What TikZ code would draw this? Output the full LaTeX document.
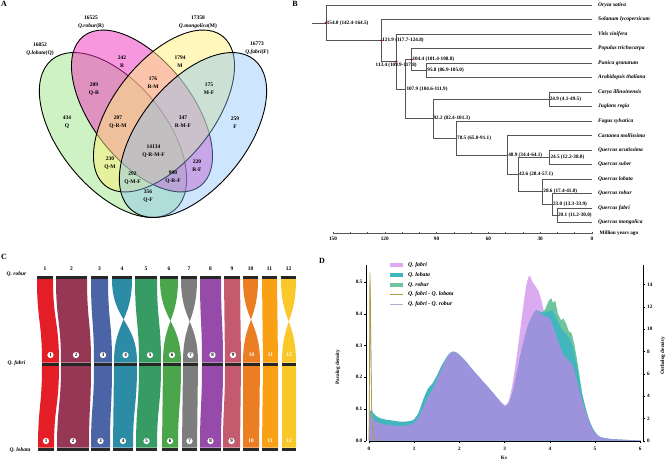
\documentclass[tikz,border=0pt]{standalone}
\usepackage{fontspec}
\setmainfont{Liberation Serif}
\usetikzlibrary{positioning}
% colours
\definecolor{vennQ}{RGB}{120,220,90}
\definecolor{vennR}{RGB}{240,50,190}
\definecolor{vennM}{RGB}{255,240,120}
\definecolor{vennF}{RGB}{130,190,250}
\definecolor{treeline}{RGB}{85,85,85}
\definecolor{dotred}{RGB}{150,20,40}
\definecolor{chrA}{RGB}{228,30,38}
\definecolor{chrB}{RGB}{150,55,85}
\definecolor{chrC}{RGB}{75,100,165}
\definecolor{chrD}{RGB}{45,140,165}
\definecolor{chrE}{RGB}{55,155,100}
\definecolor{chrF}{RGB}{75,165,75}
\definecolor{chrG}{RGB}{125,125,125}
\definecolor{chrH}{RGB}{150,75,170}
\definecolor{chrI}{RGB}{195,90,110}
\definecolor{chrJ}{RGB}{235,125,35}
\definecolor{chrK}{RGB}{250,160,20}
\definecolor{chrL}{RGB}{250,200,40}
\definecolor{dfabri}{RGB}{220,170,240}
\definecolor{dlobata}{RGB}{65,182,188}
\definecolor{drobur}{RGB}{110,196,155}
\definecolor{dbase}{RGB}{157,147,221}
\definecolor{dfl}{RGB}{170,155,60}
\definecolor{dfr}{RGB}{185,170,205}
\tikzset{
  panel/.style={font=\bfseries\fontsize{8}{9}\selectfont, inner sep=0pt},
  vlab/.style={font=\bfseries\fontsize{5.5}{7.8}\selectfont, align=center, inner sep=0pt},
  branch/.style={draw=treeline, line width=0.5pt},
  tiplab/.style={font=\bfseries\itshape\fontsize{5.5}{6}\selectfont, inner sep=0pt},
  nodelab/.style={font=\bfseries\fontsize{5.2}{6}\selectfont, inner sep=0.6pt},
  nodedot/.style={circle, fill=dotred, inner sep=0pt, minimum size=2.6pt},
  chrbar/.style={line width=3pt, draw=black!85},
  chrnum/.style={font=\bfseries\fontsize{5.5}{6}\selectfont, inner sep=0pt},
  chrcirc/.style={circle, fill=white, inner sep=0pt, minimum size=6.3pt, font=\bfseries\fontsize{5}{6}\selectfont},
  axlab/.style={font=\bfseries\fontsize{5.2}{6}\selectfont, inner sep=0.5pt},
  leglab/.style={font=\bfseries\itshape\fontsize{5.8}{6}\selectfont, inner sep=0pt, anchor=west},
}
\begin{document}
\begin{tikzpicture}[x=1pt,y=-1pt]
\useasboundingbox (0,0) rectangle (667,464);
%
%% A: Venn diagram
\node[panel] (pA) at (4,4) {A};
\foreach \c/\cx/\cy/\rot/\ra/\rb/\op in {vennQ/113/135/-51/97/53/0.36, vennR/142/111/-52/95/50/0.5,
    vennM/164/111/52/95/50/0.5, vennF/193/135/51/97/53/0.4}
  \filldraw[fill=\c, fill opacity=\op, draw=black, line width=0.9pt, rotate around={\rot:(\cx,\cy)}]
    (\cx,\cy) ellipse [x radius=\ra pt, y radius=\rb pt];
\node[vlab] (setQ) at (40,49.5) {16852\\{\itshape Q.lobata}(Q)};
\node[vlab] (setR) at (91,22.5) {16525\\{\itshape Q.robur}(R)};
\node[vlab] (setM) at (198,22.5) {17358\\{\itshape Q.mongolica}(M)};
\node[vlab] (setF) at (257,48.5) {16773\\{\itshape Q.fabri}(F)};
\foreach \x/\y/\t [count=\i] in {122/62/242\\R, 180/62/1794\\M, 94/89/209\\Q-R, 153/83/176\\R-M,
    209/88.5/175\\M-F, 67/122.5/434\\Q, 118/122/207\\Q-R-M, 183/122/347\\R-M-F, 235/122.5/259\\F,
    153.5/151/14134\\Q-R-M-F, 110/163/230\\Q-M, 197/165.5/220\\R-F, 132.5/178.5/292\\Q-M-F,
    173/177.5/990\\Q-R-F, 148/196.5/356\\Q-F}
  \node[vlab] (v\i) at (\x,\y) {\t};
%
%% B: dated tree
\node[panel] (pB) at (295,4) {B};
\foreach \sp [count=\i from 0] in {Oryza sativa, Solanum lycopersicum, Vitis vinifera, Populus trichocarpa,
    Punica granatum, Arabidopsis thaliana, Carya illinoinensis, Juglans regia, Fagus sylvatica,
    Castanea mollissima, Quercus acutissima, Quercus suber, Quercus lobata, Quercus robur,
    Quercus fabri, Quercus mongolica}{
  \coordinate (e\i) at (592,{5+14.5*\i});
  \node[tiplab, right=6pt] (s\i) at (e\i) {\sp};
}
\coordinate (rs) at (312,22.75);
\coordinate (r0) at (326,22.75);     % 154.0
\coordinate (r1) at (381.5,40.5);    % 121.9
\coordinate (r2) at (396.2,61.5);    % 113.4
\coordinate (r3) at (405.7,89);      % 107.9
\coordinate (r4) at (411.7,59.4);    % 104.4
\coordinate (r5) at (426.6,70.25);   % 95.8
\coordinate (r6) at (432.8,118.6);   % 92.2
\coordinate (r7) at (549.0,99.25);   % 24.9
\coordinate (r8) at (456.4,138);     % 78.5
\coordinate (r9) at (507.5,155);     % 48.9
\coordinate (r10) at (518.4,174.5);  % 42.6
\coordinate (r11) at (549.7,157.25); % 24.5
\coordinate (r12) at (542.6,191.7);  % 28.6
\coordinate (r13) at (552.3,204.4);  % 23.0
\coordinate (r14) at (557.3,215.25); % 20.1
\draw[branch] (rs) -- (r0);
\foreach \p/\c in {r0/e0, r0/r1, r1/e1, r1/r2, r2/e2, r2/r3, r3/r4, r3/r6, r4/e3, r4/r5, r5/e4, r5/e5,
    r6/r7, r6/r8, r7/e6, r7/e7, r8/e8, r8/r9, r9/e9, r9/r10, r10/r11, r10/r12, r11/e10, r11/e11,
    r12/e12, r12/r13, r13/e13, r13/r14, r14/e14, r14/e15}
  \draw[branch] (\p) |- (\c);
\foreach \n/\t in {r0/154.0 (142.4-164.5), r1/121.9 (117.7-124.8), r3/107.9 (104.6-111.9),
    r4/104.4 (101.4-108.8), r5/95.8 (86.9-105.0), r6/92.2 (82.4-101.3), r7/24.9 (4.1-49.5),
    r8/78.5 (65.0-91.1), r9/48.9 (34.4-64.1), r10/42.6 (28.4-57.1), r11/24.5 (12.2-38.0),
    r12/28.6 (17.4-41.0), r13/23.0 (13.3-33.9), r14/20.1 (11.2-30.0)}
  \node[nodelab, anchor=west] (l\n) at (\n) {\t};
\node[nodelab, below=1pt] (lr2) at (r2) {113.4 (109.9-117.8)};
\foreach \n in {r0,r1,r2,r4}
  \node[nodedot] (d\n) at (\n) {};
% time axis
\coordinate (ax0) at (333,233);
\coordinate (ax1) at (592,233);
\draw[branch] (ax0) -- (ax1);
\foreach \t in {0,10,...,150}
  \draw[branch] ({592-1.727*\t},231.8) -- ({592-1.727*\t},234.2);
\foreach \t in {0,30,...,150}
  \node[axlab] (tk\t) at ({592-1.727*\t},239) {\t};
\node[axlab, anchor=west] (myalab) at (599,233) {Million years ago};
%
%% C: synteny
\node[panel] (pC) at (4,257) {C};
\node[tiplab] (rowR) at (16.5,274) {Q. robur};
\node[tiplab] (rowF) at (16.5,363) {Q. fabri};
\node[tiplab] (rowL) at (20,450) {Q. lobata};
\foreach \c/\tl/\tr/\ml/\mr/\bl/\br/\inv [count=\i] in {chrA/37/53/42/59/38/54/0, chrB/56/87/61/91/57/89/0,
    chrC/91/108/94/112/91/110/0, chrD/112/132/114/137/113/133/1, chrE/135/157/139/161/136/157/0,
    chrF/160/178/163/181/162/178/1, chrG/181/197/183/198/182/197/1, chrH/200/221/202/223/200/221/0,
    chrI/224/240/225/241/223/240/0, chrJ/243/258/243/260/243/259/1, chrK/262/277/263/278/262/278/0,
    chrL/281/296/282/296/282/296/1}{
  \ifnum\inv=1
    \fill[\c] (\tl,279) .. controls (\tl,321) and (\mr,321) .. (\mr,362.5) -- (\ml,362.5)
      .. controls (\ml,321) and (\tr,321) .. (\tr,279) -- cycle;
  \else
    \fill[\c] (\tl,279) .. controls (\tl,321) and (\ml,321) .. (\ml,362.5) -- (\mr,362.5)
      .. controls (\mr,321) and (\tr,321) .. (\tr,279) -- cycle;
  \fi
  \fill[\c] (\ml,365.5) .. controls (\ml,406.5) and (\bl,406.5) .. (\bl,447.5) -- (\br,447.5)
    .. controls (\br,406.5) and (\mr,406.5) .. (\mr,365.5) -- cycle;
  \draw[chrbar] (\tl,277.7) -- (\tr,277.7);
  \draw[chrbar] (\ml,364) -- (\mr,364);
  \draw[chrbar] (\bl,449) -- (\br,449);
  \node[chrnum] (cn\i) at ({(\tl+\tr)/2},269) {\i};
  \ifnum\i<10
    \node[chrcirc] (cm\i) at ({(\ml+\mr)/2},355) {\i};
    \node[chrcirc] (cb\i) at ({(\bl+\br)/2},441) {\i};
  \else
    \node[chrnum, text=white] (cm\i) at ({(\ml+\mr)/2},355) {\i};
    \node[chrnum, text=white] (cb\i) at ({(\bl+\br)/2},441) {\i};
  \fi
}
%
%% D: Ks distribution
\node[panel] (pD) at (322,261) {D};
\begin{scope}[shift={(369,440.7)}, x=45.2pt, y=317pt]
\fill[dfabri] plot[smooth, tension=0.5] coordinates {(0,0) (0.01,0.055) (0.04,0.085) (0.08,0.072) (0.15,0.06)
  (0.3,0.053) (0.5,0.048) (0.7,0.046) (0.9,0.05) (1.0,0.056) (1.1,0.075) (1.2,0.105) (1.3,0.135)
  (1.45,0.175) (1.6,0.225) (1.75,0.268) (1.85,0.28) (1.95,0.276) (2.1,0.256) (2.3,0.222) (2.5,0.19)
  (2.7,0.158) (2.85,0.133) (2.95,0.118) (3.02,0.113) (3.1,0.13) (3.2,0.2) (3.3,0.3) (3.4,0.41)
  (3.48,0.49) (3.55,0.52) (3.62,0.5) (3.68,0.488) (3.75,0.472) (3.8,0.45) (3.88,0.405) (4.0,0.385)
  (4.1,0.35) (4.2,0.305) (4.3,0.272) (4.4,0.255) (4.5,0.24) (4.6,0.19) (4.7,0.135) (4.8,0.09)
  (4.9,0.05) (5.0,0.025) (5.1,0.012) (5.3,0.006) (5.6,0.003) (6,0.001) (6,0)} -- cycle;
\fill[drobur] (3.8,0) -- (3.8,0.4) -- (3.9,0.415) -- (3.97,0.44) -- (4.03,0.45) -- (4.07,0.435)
  -- (4.12,0.442) -- (4.18,0.4) -- (4.25,0.38) -- (4.3,0.385) -- (4.36,0.37) -- (4.42,0.345)
  -- (4.48,0.34) -- (4.55,0.3) -- (4.62,0.24) -- (4.7,0.165) -- (4.7,0) -- cycle;
\fill[dlobata] plot[smooth, tension=0.5] coordinates {(0,0) (0.01,0.08) (0.05,0.098) (0.1,0.086) (0.2,0.074)
  (0.35,0.067) (0.5,0.064) (0.7,0.06) (0.9,0.062) (1.0,0.068) (1.1,0.09) (1.2,0.13) (1.3,0.163)
  (1.4,0.18) (1.5,0.205) (1.6,0.235) (1.75,0.27) (1.85,0.281) (1.95,0.277) (2.1,0.257) (2.3,0.223)
  (2.5,0.19) (2.7,0.158) (2.85,0.132) (2.95,0.115) (3.02,0.108) (3.1,0.12) (3.2,0.165) (3.3,0.235)
  (3.4,0.3) (3.5,0.355) (3.6,0.39) (3.7,0.412) (3.8,0.405) (3.9,0.405) (4.0,0.41) (4.05,0.412)
  (4.1,0.4) (4.2,0.37) (4.3,0.345) (4.4,0.33) (4.5,0.3) (4.6,0.235) (4.7,0.16) (4.8,0.1)
  (4.9,0.055) (5.0,0.028) (5.1,0.013) (5.3,0.006) (5.6,0.003) (6,0.001) (6,0)} -- cycle;
\fill[dbase] plot[smooth, tension=0.5] coordinates {(0,0) (0.01,0.055) (0.04,0.085) (0.08,0.072) (0.15,0.06)
  (0.3,0.053) (0.5,0.048) (0.7,0.046) (0.9,0.05) (1.0,0.056) (1.1,0.075) (1.2,0.105) (1.3,0.135)
  (1.45,0.175) (1.6,0.225) (1.75,0.268) (1.85,0.28) (1.95,0.276) (2.1,0.256) (2.3,0.222) (2.5,0.19)
  (2.7,0.158) (2.85,0.132) (2.95,0.115) (3.02,0.108) (3.1,0.12) (3.2,0.165) (3.3,0.235) (3.4,0.3)
  (3.5,0.355) (3.6,0.39) (3.7,0.41) (3.8,0.4) (3.88,0.395) (4.0,0.385) (4.1,0.35) (4.2,0.305)
  (4.3,0.272) (4.4,0.255) (4.5,0.24) (4.6,0.19) (4.7,0.135) (4.8,0.09) (4.9,0.05) (5.0,0.025)
  (5.1,0.012) (5.3,0.006) (5.6,0.003) (6,0.001) (6,0)} -- cycle;
\end{scope}
\begin{scope}[shift={(369,440.7)}, x=45.2pt, y=11.15pt]
\draw[dfr, line width=0.6pt] plot[smooth, tension=0.4] coordinates {(0,0) (0.012,5) (0.025,13.5) (0.04,9)
  (0.06,2.5) (0.1,0.4) (0.2,0)};
\draw[dfl, line width=0.7pt] plot[smooth, tension=0.4] coordinates {(0,0) (0.01,6) (0.02,14.8) (0.03,13)
  (0.045,7) (0.06,3) (0.08,1) (0.12,0.2) (0.2,0)};
\end{scope}
% axes
\coordinate (yl0) at (366,440.7);
\coordinate (yl1) at (366,265);
\coordinate (yr0) at (643.3,440.7);
\coordinate (yr1) at (643.3,265);
\coordinate (xb0) at (369,440.7);
\coordinate (xb1) at (640.2,440.7);
\draw[line width=0.5pt] (yl0) -- (yl1);
\draw[line width=0.5pt] (yr0) -- (yr1);
\draw[line width=0.4pt] (xb0) -- (xb1);
\foreach \d in {0,...,5}{
  \draw[line width=0.4pt] (366,{440.7-31.7*\d}) -- (364,{440.7-31.7*\d});
  \node[axlab, anchor=east] (yt\d) at (363,{440.7-31.7*\d}) {0.\d};
}
\foreach \o in {0,2,...,14}{
  \draw[line width=0.4pt] (643.3,{440.7-11.15*\o}) -- (645.3,{440.7-11.15*\o});
  \node[axlab, anchor=west] (ot\o) at (646.5,{440.7-11.15*\o}) {\o};
}
\foreach \k in {0,...,6}{
  \draw[line width=0.4pt] ({369+45.2*\k},440.7) -- ({369+45.2*\k},443);
  \node[axlab] (kt\k) at ({369+45.2*\k},448.5) {\k};
}
\node[axlab] (kslab) at (504,458) {Ks};
\node[axlab, rotate=90] (plab) at (338,367) {Paralog density};
\node[axlab, rotate=90] (olab) at (663,356) {Ortholog density};
% legend
\foreach \c/\t [count=\i from 0] in {dfabri/Q. fabri, dlobata/Q. lobata, drobur/Q. robur}{
  \fill[\c] (390,{263+9.75*\i}) rectangle (403,{267+9.75*\i});
  \node[leglab] (lg\i) at (408,{265+9.75*\i}) {\t};
}
\draw[dfl, line width=0.8pt] (390,294.3) -- (403,294.3);
\node[leglab] (lg3) at (408,294.3) {Q. fabri - Q. lobata};
\draw[dfr, line width=0.8pt] (390,304) -- (403,304);
\node[leglab] (lg4) at (408,304) {Q. fabri - Q. robur};
\end{tikzpicture}
\end{document}
